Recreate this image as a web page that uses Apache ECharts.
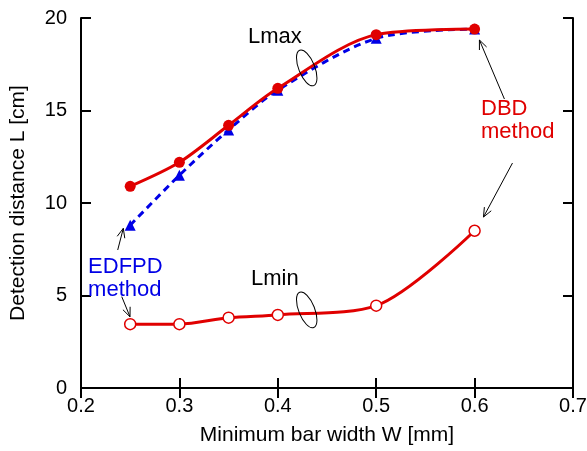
<!DOCTYPE html>
<html><head><meta charset="utf-8">
<script src="https://cdn.jsdelivr.net/npm/echarts@6/dist/echarts.min.js"></script>
<style>html,body{margin:0;padding:0;background:#fff}#c{width:587px;height:451px}</style>
</head><body><div id="c"></div>
<script>
const widths = [0.25, 0.3, 0.35, 0.4, 0.5, 0.6];
const dbdLmax = [10.9, 12.2, 14.2, 16.2, 19.1, 19.4];
const edfpdLmax = [8.8, 11.5, 13.95, 16.1, 18.9, 19.4];
const dbdLmin = [3.45, 3.45, 3.8, 3.95, 4.45, 8.5];
const xTicks = [0.2, 0.3, 0.4, 0.5, 0.6, 0.7];
const yTicks = [0, 5, 10, 15, 20];

const FONT = '"Liberation Sans", Arial, sans-serif';
const RED = '#e00000', BLUE = '#0000e6';
const pairs = (ys) => widths.map((x, i) => [x, ys[i]]);

const chart = echarts.init(document.getElementById('c'), null, {renderer: 'canvas'});
const axisCommon = {
  axisLine: {show: true, lineStyle: {color: '#000', width: 2}},
  axisTick: {show: true, inside: true, length: 10, lineStyle: {color: '#000', width: 2}},
  splitLine: {show: false}
};
chart.setOption({
  animation: false,
  grid: {left: 81, right: 14, top: 18, bottom: 63, outerBoundsMode: 'none', containLabel: false},
  xAxis: [
    Object.assign({type: 'value', min: xTicks[0], max: xTicks[xTicks.length-1], interval: 0.1,
      name: 'Minimum bar width W [mm]', nameLocation: 'middle', nameGap: 37,
      nameTextStyle: {fontFamily: FONT, fontSize: 21, color: '#000'},
      axisLabel: {fontFamily: FONT, fontSize: 20, color: '#000', margin: 8,
        formatter: v => v.toFixed(1)}}, axisCommon),
    Object.assign({type: 'value', position: 'top', min: xTicks[0], max: xTicks[xTicks.length-1], interval: 0.1,
      axisLabel: {show: false}}, axisCommon)
  ],
  yAxis: [
    Object.assign({type: 'value', min: yTicks[0], max: yTicks[yTicks.length-1], interval: 5,
      name: 'Detection distance L [cm]', nameLocation: 'middle', nameGap: 52,
      nameTextStyle: {fontFamily: FONT, fontSize: 21, color: '#000'},
      axisLabel: {fontFamily: FONT, fontSize: 20, color: '#000', margin: 14}}, axisCommon),
    Object.assign({type: 'value', position: 'right', min: yTicks[0], max: yTicks[yTicks.length-1], interval: 5,
      axisLabel: {show: false}}, axisCommon)
  ],
  series: [
    {type: 'line', data: pairs(edfpdLmax), smooth: 0.3, symbol: 'triangle', symbolSize: 11,
      itemStyle: {color: BLUE}, lineStyle: {color: BLUE, width: 3, type: [7, 5]}, z: 2},
    {type: 'line', data: pairs(dbdLmax), smooth: 0.3, symbol: 'circle', symbolSize: 11,
      itemStyle: {color: RED}, lineStyle: {color: RED, width: 3}, z: 3},
    {type: 'line', data: pairs(dbdLmin), smooth: 0.3, symbol: 'circle', symbolSize: 11,
      itemStyle: {color: '#fff', borderColor: RED, borderWidth: 1.5}, lineStyle: {color: RED, width: 3}, z: 3}
  ]
});

function px(x, y) { return chart.convertToPixel({xAxisIndex: 0, yAxisIndex: 0}, [x, y]); }
function arrow(tail, tip) {
  const a = px(tail[0], tail[1]), b = px(tip[0], tip[1]);
  const ang = Math.atan2(b[1]-a[1], b[0]-a[0]);
  const L = 10, s = 0.4;
  const h1 = [b[0]-L*Math.cos(ang-s), b[1]-L*Math.sin(ang-s)];
  const h2 = [b[0]-L*Math.cos(ang+s), b[1]-L*Math.sin(ang+s)];
  return [
    {type: 'line', shape: {x1: a[0], y1: a[1], x2: b[0], y2: b[1]}, style: {stroke: '#000', lineWidth: 1}, z: 10},
    {type: 'polyline', shape: {points: [h1, b, h2]}, style: {stroke: '#000', lineWidth: 1, fill: null}, z: 10}
  ];
}
function text(x, y, str, color, align) {
  const p = px(x, y);
  return {type: 'text', x: p[0], y: p[1], z: 10,
    style: {text: str, fill: color, font: '22px ' + FONT, textAlign: align || 'center', textVerticalAlign: 'middle', lineHeight: 23}};
}
function ell(x, y) {
  const p = px(x, y);
  return {type: 'ellipse', x: p[0], y: p[1], rotation: 0.38, z: 10,
    shape: {cx: 0, cy: 0, rx: 8, ry: 19}, style: {stroke: '#000', lineWidth: 1, fill: null}};
}
chart.setOption({graphic: [].concat(
  text(0.397, 18.97, 'Lmax', '#000'),
  ell(0.4294, 17.3),
  text(0.397, 5.89, 'Lmin', '#000'),
  ell(0.4294, 4.22),
  text(0.6065, 14.45, 'DBD\nmethod', RED, 'left'),
  text(0.2072, 5.9, 'EDFPD\nmethod', BLUE, 'left'),
  arrow([0.6303, 15.62], [0.6049, 18.81]),
  arrow([0.6385, 12.16], [0.609, 9.24]),
  arrow([0.2373, 7.46], [0.243, 8.63]),
  arrow([0.2414, 4.94], [0.2498, 3.85])
)});
</script></body></html>
